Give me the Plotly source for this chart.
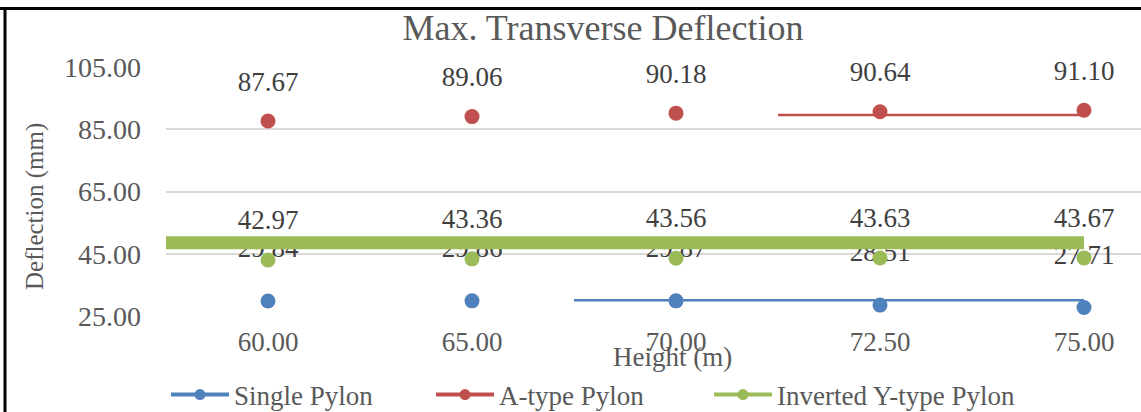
"""Max. transverse deflection vs pylon height, three pylon types (Excel-style scatter)."""

import plotly.graph_objects as go

# Category axis: pylon height (m)
HEIGHT_LABELS = ["60.00", "65.00", "70.00", "72.50", "75.00"]

# Max. transverse deflection (mm) per pylon type
SINGLE_PYLON = [29.84, 29.86, 29.87, 28.51, 27.71]
A_TYPE_PYLON = [87.67, 89.06, 90.18, 90.64, 91.10]
INV_Y_PYLON = [42.97, 43.36, 43.56, 43.63, 43.67]

# Stray series lines visible in the source picture (category index, mm)
SINGLE_STRAY_X = [1.5, 4.0]
SINGLE_STRAY_Y = [30.1, 30.1]
A_TYPE_STRAY_X = [2.5, 4.0]
A_TYPE_STRAY_Y = [89.6, 89.6]
INV_Y_STRAY_X = [-0.5, 4.0]
INV_Y_STRAY_Y = [48.5, 48.5]

Y_TICKS = [25, 45, 65, 85, 105]

COLOR_SINGLE = "#4F81BD"
COLOR_A_TYPE = "#C0504D"
COLOR_INV_Y = "#9BBB59"
TEXT_COLOR = "#595959"
LABEL_COLOR = "#404040"
GRID_COLOR = "#D9D9D9"
FONT = "Liberation Serif, Times New Roman, serif"

# Plot box in pixels, used to place the out-of-plot elements
W, H = 1141, 412
M_L, M_R, M_T, M_B = 166, 0, 67, 96
PW, PH = W - M_L - M_R, H - M_T - M_B


def px_x(x):
    return (x - M_L) / PW


def px_y(y):
    return (H - M_B - y) / PH


x_idx = list(range(len(HEIGHT_LABELS)))

fig = go.Figure()


def add_series(values, stray_x, stray_y, color, label_size, stray_width):
    fig.add_trace(go.Scatter(
        x=stray_x, y=stray_y, mode="lines", showlegend=False, hoverinfo="skip",
        line={"color": color, "width": stray_width}, cliponaxis=False,
    ))
    fig.add_trace(go.Scatter(
        x=x_idx, y=values, mode="markers", showlegend=False,
        marker={"color": color, "size": 15}, cliponaxis=False,
    ))
    # transparent anchor markers push the labels up, like Excel's "above" labels
    fig.add_trace(go.Scatter(
        x=x_idx, y=values, mode="markers+text", showlegend=False, hoverinfo="skip",
        text=[f"{v:.2f}" for v in values], textposition="top center",
        textfont={"family": FONT, "size": 27, "color": LABEL_COLOR},
        marker={"color": "rgba(0,0,0,0)", "size": label_size}, cliponaxis=False,
    ))


add_series(SINGLE_PYLON, SINGLE_STRAY_X, SINGLE_STRAY_Y, COLOR_SINGLE, 58, 2.5)
add_series(A_TYPE_PYLON, A_TYPE_STRAY_X, A_TYPE_STRAY_Y, COLOR_A_TYPE, 36, 2.5)
add_series(INV_Y_PYLON, INV_Y_STRAY_X, INV_Y_STRAY_Y, COLOR_INV_Y, 37, 13)

# one legend per entry so each sits where Excel put it
LEGEND_ITEMS = [
    ("Single Pylon", COLOR_SINGLE, "legend", 166),
    ("A-type Pylon", COLOR_A_TYPE, "legend2", 431),
    ("Inverted Y-type Pylon", COLOR_INV_Y, "legend3", 709),
]
legend_layout = {}
for name, color, legend_id, left_px in LEGEND_ITEMS:
    fig.add_trace(go.Scatter(
        x=[None], y=[None], mode="lines+markers", name=name, legend=legend_id,
        line={"color": color, "width": 4}, marker={"color": color, "size": 11},
    ))
    legend_layout[legend_id] = {
        "orientation": "h",
        "x": px_x(left_px), "xanchor": "left",
        "y": px_y(395), "yanchor": "middle",
        "font": {"size": 27, "color": TEXT_COLOR},
        "itemwidth": 58,
        "bgcolor": "rgba(0,0,0,0)",
    }

fig.update_layout(
    width=W,
    height=H,
    margin={"l": M_L, "r": M_R, "t": M_T, "b": M_B, "autoexpand": False},
    paper_bgcolor="white",
    plot_bgcolor="white",
    font={"family": FONT, "color": TEXT_COLOR},
    title={
        "text": "Max. Transverse Deflection",
        "font": {"size": 36, "color": TEXT_COLOR},
        "x": 603 / W, "xanchor": "center",
        "y": 1 - 27 / H, "yanchor": "middle",
    },
    xaxis={
        "range": [-0.5, (W - 268) / 204],
        "tickvals": x_idx,
        "ticktext": HEIGHT_LABELS,
        "showgrid": False,
        "zeroline": False,
        "showline": False,
        "ticks": "",
        "ticklabelstandoff": 7,
        "tickfont": {"size": 27, "color": TEXT_COLOR},
    },
    yaxis={
        "range": [25, 105],
        "tickvals": Y_TICKS,
        "tickformat": ".2f",
        "showgrid": True,
        "gridcolor": GRID_COLOR,
        "gridwidth": 1.5,
        "zeroline": False,
        "showline": False,
        "ticks": "",
        "ticklabelstandoff": 24,
        "tickfont": {"size": 28, "color": TEXT_COLOR},
    },
    annotations=[
        {
            "text": "Deflection (mm)", "textangle": -90, "showarrow": False,
            "xref": "paper", "yref": "paper",
            "x": px_x(35), "y": px_y(207),
            "xanchor": "center", "yanchor": "middle",
            "font": {"size": 25, "color": TEXT_COLOR},
        },
        {
            "text": "Height (m)", "showarrow": False,
            "xref": "paper", "yref": "paper",
            "x": px_x(672), "y": px_y(357),
            "xanchor": "center", "yanchor": "middle",
            "font": {"size": 27, "color": TEXT_COLOR},
        },
    ],
    shapes=[
        # black frame of the cropped chart (top and left edges)
        {"type": "line", "xref": "paper", "yref": "paper",
         "x0": px_x(0), "x1": px_x(W + 10), "y0": px_y(8.5), "y1": px_y(8.5),
         "line": {"color": "black", "width": 3}},
        {"type": "line", "xref": "paper", "yref": "paper",
         "x0": px_x(5), "x1": px_x(5), "y0": px_y(7), "y1": px_y(H + 10),
         "line": {"color": "black", "width": 3}},
    ],
    **legend_layout,
)

# drop the browser's default body margin so the figure sits at the page corner
fig.write_html(
    "out.html",
    config={"displayModeBar": False},
    post_script="document.body.style.margin = '0';",
)
